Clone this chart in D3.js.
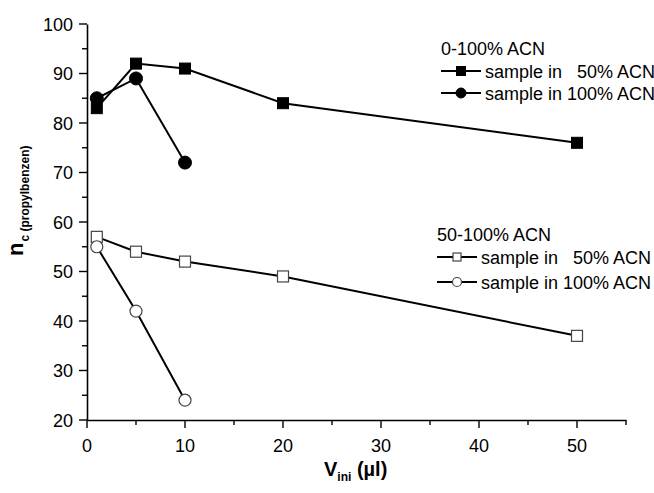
<!DOCTYPE html>
<html><head><meta charset="utf-8">
<script src="https://cdn.jsdelivr.net/npm/d3@7"></script>
<style>body{margin:0;background:#fff}svg{display:block}text{font-family:"Liberation Sans",Arial,sans-serif;white-space:pre;fill:#000}</style>
</head><body>
<svg id="c" width="654" height="493"></svg>
<script>
const xA = [1, 5, 10, 20, 50];
const yA = [83, 92, 91, 84, 76];       // 0-100% ACN, sample in 50% ACN
const xB = [1, 5, 10];
const yB = [85, 89, 72];               // 0-100% ACN, sample in 100% ACN
const xC = [1, 5, 10, 20, 50];
const yC = [57, 54, 52, 49, 37];       // 50-100% ACN, sample in 50% ACN
const xD = [1, 5, 10];
const yD = [55, 42, 24];               // 50-100% ACN, sample in 100% ACN
const xTicks = [0, 10, 20, 30, 40, 50];
const yTicks = [20, 30, 40, 50, 60, 70, 80, 90, 100];
const legend1Title = "0-100% ACN";
const legend2Title = "50-100% ACN";
const labels50 = "sample in   50% ACN";
const labels100 = "sample in 100% ACN";

const svg = d3.select("#c");
const x = d3.scaleLinear().domain([0, 55]).range([87, 626]);
const y = d3.scaleLinear().domain([20, 100]).range([420, 24]);

// axes
const gx = svg.append("g").attr("transform", "translate(0,420)");
gx.call(d3.axisBottom(x).tickValues([]).tickSize(0));
gx.select(".domain").attr("stroke", "#000").attr("stroke-width", 1.6);
d3.range(0, 56, 5).forEach(v => {
  const major = v % 10 === 0;
  gx.append("line").attr("x1", x(v)).attr("x2", x(v)).attr("y1", 0).attr("y2", major ? 8 : 5)
    .attr("stroke", "#000").attr("stroke-width", 1.4);
});
xTicks.forEach(v => {
  gx.append("text").attr("x", x(v)).attr("y", 32).attr("text-anchor", "middle")
    .attr("fill", "#000").attr("font-size", 18).text(v);
});

const gy = svg.append("g").attr("transform", "translate(87,0)");
gy.call(d3.axisLeft(y).tickValues([]).tickSize(0));
gy.select(".domain").attr("stroke", "#000").attr("stroke-width", 1.6);
d3.range(20, 101, 5).forEach(v => {
  const major = v % 10 === 0;
  gy.append("line").attr("y1", y(v)).attr("y2", y(v)).attr("x1", 0).attr("x2", major ? -8 : -5)
    .attr("stroke", "#000").attr("stroke-width", 1.4);
});
yTicks.forEach(v => {
  gy.append("text").attr("x", -14).attr("y", y(v) + 6.5).attr("text-anchor", "end")
    .attr("fill", "#000").attr("font-size", 18).text(v);
});

// axis titles
const xt = svg.append("text").attr("x", 324).attr("y", 476).attr("font-weight", "bold").attr("font-size", 20);
xt.append("tspan").text("V");
xt.append("tspan").attr("font-size", 12).attr("dy", 5).text("ini");
xt.append("tspan").attr("dy", -5).text(" (\u00b5l)");

const yt = svg.append("text").attr("transform", "translate(23,256) rotate(-90)").attr("font-weight", "bold").attr("font-size", 22);
yt.append("tspan").text("n");
yt.append("tspan").attr("font-size", 12).attr("dy", 6).attr("dx", 1).text("c (propylbenzen)");

// series
const line = d3.line().x(d => x(d[0])).y(d => y(d[1]));
function drawLine(xs, ys) {
  svg.append("path").datum(xs.map((v, i) => [v, ys[i]])).attr("d", line)
    .attr("fill", "none").attr("stroke", "#000").attr("stroke-width", 2);
}
function square(cx, cy, s, filled) {
  svg.append("rect").attr("x", cx - s / 2).attr("y", cy - s / 2).attr("width", s).attr("height", s)
    .attr("fill", filled ? "#000" : "#fff").attr("stroke", filled ? "#000" : "#444").attr("stroke-width", filled ? 1 : 1.2);
}
function circle(cx, cy, r, filled) {
  svg.append("circle").attr("cx", cx).attr("cy", cy).attr("r", r)
    .attr("fill", filled ? "#000" : "#fff").attr("stroke", filled ? "#000" : "#444").attr("stroke-width", filled ? 1 : 1.2);
}
drawLine(xC, yC); drawLine(xD, yD); drawLine(xA, yA); drawLine(xB, yB);
xC.forEach((v, i) => square(x(v), y(yC[i]), 11, false));
xD.forEach((v, i) => circle(x(v), y(yD[i]), 6, false));
xA.forEach((v, i) => square(x(v), y(yA[i]), 11, true));
xB.forEach((v, i) => circle(x(v), y(yB[i]), 6.5, true));

// legends
function legend(tx, ty, title, rows) {
  svg.append("text").attr("x", tx).attr("y", ty).attr("font-size", 18).text(title);
  rows.forEach(r => {
    svg.append("line").attr("x1", tx).attr("x2", tx + 40).attr("y1", r.y).attr("y2", r.y)
      .attr("stroke", "#000").attr("stroke-width", 2);
    if (r.shape === "sq") square(tx + 20, r.y, r.filled ? 9 : 8, r.filled);
    else circle(tx + 20, r.y, r.filled ? 5 : 4.5, r.filled);
    svg.append("text").attr("x", tx + 44).attr("y", r.y + 6.5).attr("font-size", 18).text(r.label);
  });
}
legend(441, 55, legend1Title, [
  {y: 71, shape: "sq", filled: true, label: labels50},
  {y: 93, shape: "ci", filled: true, label: labels100}
]);
legend(437, 241, legend2Title, [
  {y: 257, shape: "sq", filled: false, label: labels50},
  {y: 282, shape: "ci", filled: false, label: labels100}
]);
</script>
</body></html>
